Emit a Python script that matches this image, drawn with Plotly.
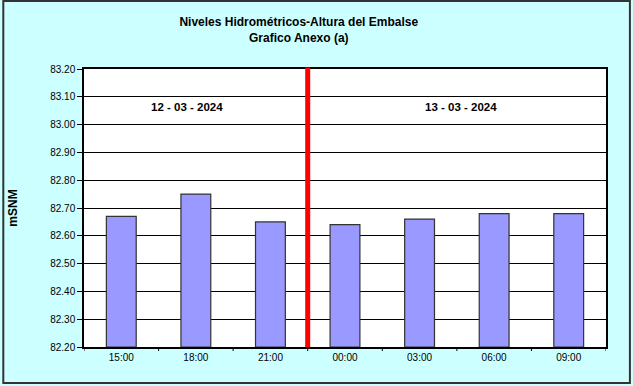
import plotly.graph_objects as go

categories = ["15:00", "18:00", "21:00", "00:00", "03:00", "06:00", "09:00"]
levels = [82.67, 82.75, 82.65, 82.64, 82.66, 82.68, 82.68]
y_ticks = [82.20, 82.30, 82.40, 82.50, 82.60, 82.70, 82.80, 82.90, 83.00, 83.10, 83.20]
date_labels = ["12 - 03 - 2024", "13 - 03 - 2024"]

W, H = 633, 386
L, R, T, B = 82, 27, 69, 39
pw, ph = W - L - R, H - T - B

def px_x(x):
    return (x - L) / pw

def px_y(y):
    return (H - B - y) / ph

fig = go.Figure()
fig.add_trace(go.Bar(
    x=list(range(len(categories))), y=[v - y_ticks[0] for v in levels], base=y_ticks[0],
    marker=dict(color="#9999FF", line=dict(color="#333333", width=1.2)),
    width=0.4, hoverinfo="skip",
))

fig.update_layout(
    width=W, height=H,
    margin=dict(l=L, r=R, t=T, b=B),
    paper_bgcolor="#CCFFFF", plot_bgcolor="white",
    showlegend=False,
    font=dict(family="Liberation Sans, Arial", size=10, color="black"),
    title=dict(
        text="<b>Niveles Hidrométricos-Altura del Embalse<br>Grafico Anexo (a)</b>",
        x=0.472, xanchor="center", y=1 - 26 / H, yanchor="middle",
        font=dict(size=12, family="Liberation Sans, Arial"),
    ),
    xaxis=dict(
        range=[-0.5, len(categories) - 0.5],
        tickmode="array", tickvals=list(range(len(categories))), ticktext=categories,
        showgrid=False, showline=True, linecolor="black", linewidth=1.5, mirror=True,
        ticks="", zeroline=False,
    ),
    yaxis=dict(
        range=[y_ticks[0], y_ticks[-1]],
        tickmode="array", tickvals=y_ticks, ticktext=[f"{v:.2f}" for v in y_ticks],
        showgrid=True, gridcolor="black", gridwidth=1,
        showline=True, linecolor="black", linewidth=1.5, mirror=True,
        ticks="outside", ticklen=5, tickcolor="black",
        title=dict(text="<b>mSNM</b>", standoff=30, font=dict(size=12)),
        zeroline=False,
    ),
)

# x tick marks on category boundaries
for i in range(len(categories) + 1):
    fig.add_shape(type="line", xref="x", yref="paper",
                  x0=i - 0.5, x1=i - 0.5, y0=0, y1=-4 / ph,
                  line=dict(color="black", width=1))

# red divider between days
fig.add_shape(type="line", xref="x", yref="paper", x0=2.5, x1=2.5, y0=0, y1=1.005,
              line=dict(color="#FF0000", width=5))

# date annotations
fig.add_annotation(x=0.875, y=83.063, xref="x", yref="y", text=f"<b>{date_labels[0]}</b>",
                   showarrow=False, font=dict(size=11.5))
fig.add_annotation(x=4.55, y=83.063, xref="x", yref="y", text=f"<b>{date_labels[1]}</b>",
                   showarrow=False, font=dict(size=11.5))

# outer frame
fig.add_shape(type="rect", xref="paper", yref="paper",
              x0=px_x(1), x1=px_x(630), y0=px_y(1), y1=px_y(383),
              line=dict(color="#333333", width=2), layer="below")

fig.write_html("out.html", config={"displayModeBar": False},
               post_script="document.body.style.margin='0';")
